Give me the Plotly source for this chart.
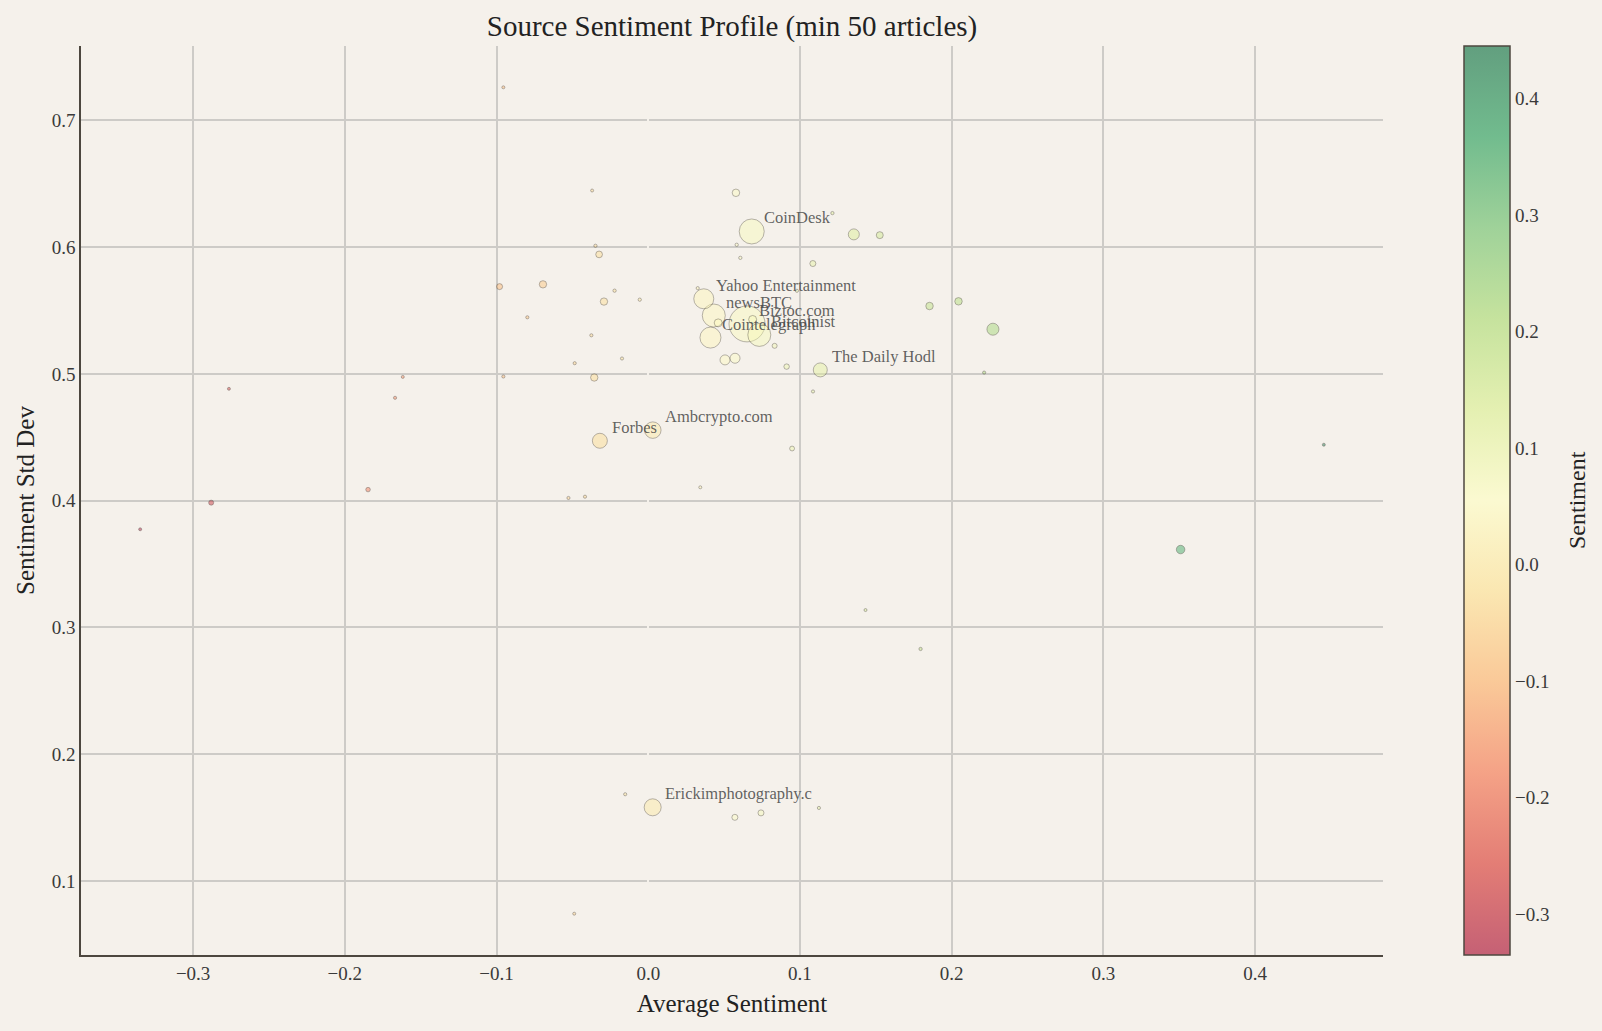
import numpy as np
import plotly.graph_objects as go

# ---------------- data ----------------
source_names = [
    "CoinDesk", "Yahoo Entertainment", "newsBTC", "Biztoc.com", "Cointelegraph",
    "Bitcoinist", "The Daily Hodl", "Forbes", "Ambcrypto.com", "Erickimphotography.c",
] + [""] * 54

avg_sentiment = [
    0.0682, 0.0366, 0.0432, 0.0651, 0.0410,
    0.0732, 0.1134, -0.0319, 0.0030, 0.0029,
    -0.0955, -0.0370, 0.0578, 0.1214, 0.1355, 0.1526, -0.0348, -0.0324, 0.0583, 0.0607,
    0.1085, -0.0980, -0.0694, 0.0326, -0.0222, -0.0292, -0.0056, 0.0980, -0.0797, 0.0461,
    0.0688, -0.0375, 0.0833, 0.0506, 0.0572, 0.0912, -0.0173, -0.0485, -0.0356, -0.0955,
    -0.1618, -0.2764, -0.1669, 0.1854, 0.2045, 0.2272, 0.2214, 0.1086, 0.0948, 0.0343,
    -0.1847, -0.0526, -0.0417, -0.2881, -0.3349, 0.4453, 0.3509, 0.1432, 0.1795, -0.0152,
    0.0571, 0.0743, 0.1125, -0.0488,
]

std_sentiment = [
    0.6123, 0.5592, 0.5460, 0.5394, 0.5286,
    0.5307, 0.5031, 0.4472, 0.4556, 0.1581,
    0.7260, 0.6446, 0.6428, 0.6268, 0.6100, 0.6094, 0.6010, 0.5942, 0.6018, 0.5915,
    0.5870, 0.5688, 0.5706, 0.5676, 0.5656, 0.5570, 0.5585, 0.5655, 0.5446, 0.5402,
    0.5429, 0.5304, 0.5221, 0.5110, 0.5123, 0.5057, 0.5121, 0.5084, 0.4971, 0.4979,
    0.4976, 0.4882, 0.4811, 0.5535, 0.5572, 0.5352, 0.5010, 0.4861, 0.4411, 0.4105,
    0.4087, 0.4021, 0.4031, 0.3984, 0.3774, 0.4441, 0.3614, 0.3137, 0.2830, 0.1684,
    0.1502, 0.1537, 0.1576, 0.0742,
]

article_count = [
    3460, 2215, 2930, 7175, 2440,
    2930, 1085, 1246, 1507, 1600,
    50, 50, 311, 60, 670, 270, 60, 250, 60, 60,
    200, 200, 300, 55, 60, 300, 60, 55, 55, 350,
    350, 55, 140, 554, 554, 165, 55, 55, 300, 55,
    50, 50, 55, 310, 310, 800, 55, 55, 130, 50,
    112, 55, 55, 140, 50, 50, 400, 50, 60, 55,
    200, 200, 55, 50,
]

x_ticks = [-0.3, -0.2, -0.1, 0.0, 0.1, 0.2, 0.3, 0.4]
y_ticks = [0.1, 0.2, 0.3, 0.4, 0.5, 0.6, 0.7]
cbar_ticks = [-0.3, -0.2, -0.1, 0.0, 0.1, 0.2, 0.3, 0.4]

# ---------------- style ----------------
BG = "#f5f1eb"
SPINE = "#4d473f"
GRID = "#cdcbc7"
FONT = "Liberation Serif, Times New Roman, serif"
ALPHA = 0.6
TICK_FONT = dict(family=FONT, size=19, color="#3a3a3a")

rdylgn = ["#a50026", "#d73027", "#f46d43", "#fdae61", "#fee08b", "#ffffbf",
          "#d9ef8b", "#a6d96a", "#66bd63", "#1a9850", "#006837"]


def rgba(h, a):
    h = h.lstrip("#")
    return f"rgba({int(h[0:2],16)},{int(h[2:4],16)},{int(h[4:6],16)},{a})"


def fmt(v):
    return f"{v:.1f}".replace("-", "\u2212")


colorscale = [[k / (len(rdylgn) - 1), rgba(c, ALPHA)] for k, c in enumerate(rdylgn)]

x = np.array(avg_sentiment)
y = np.array(std_sentiment)
n = np.array(article_count)
diam = 0.425 * np.sqrt(n)

order = np.argsort(-n)

xpad = (x.max() - x.min()) * 0.05
ypad = (y.max() - y.min()) * 0.05

fig = go.Figure()

fig.add_trace(go.Scatter(
    x=x[order], y=y[order], mode="markers",
    marker=dict(
        size=diam[order], sizemode="diameter",
        color=x[order], colorscale=colorscale,
        cmin=x.min(), cmax=x.max(),
        line=dict(color="rgba(50,45,40,0.6)", width=0.8),
        colorbar=dict(
            thickness=46, len=1.0, lenmode="fraction", y=0.5, yanchor="middle",
            x=1.0622, xanchor="left", xpad=0, ypad=0,
            outlinewidth=1.5, outlinecolor=SPINE,
            tickvals=cbar_ticks, ticktext=[fmt(v) for v in cbar_ticks], ticks="",
            tickfont=TICK_FONT,
        ),
    ),
    hoverinfo="skip", showlegend=False,
))

for name, xi, yi in zip(source_names, avg_sentiment, std_sentiment):
    if name:
        fig.add_annotation(
            x=xi, y=yi, text=name, showarrow=False,
            xanchor="left", yanchor="bottom", xshift=10, yshift=2,
            font=dict(family=FONT, size=16.5, color="rgba(70,70,70,0.85)"),
        )

# colorbar label
fig.add_annotation(
    text="Sentiment", xref="paper", yref="paper",
    x=(1576.5 - 81) / 1302, y=0.5, xanchor="center", yanchor="middle",
    textangle=-90, showarrow=False,
    font=dict(family=FONT, size=24, color="#222"),
)

fig.add_shape(type="line", xref="x", yref="paper", x0=0, x1=0, y0=0, y1=1,
              line=dict(color="rgba(150,120,100,0.7)", width=1, dash="dash"),
              layer="below")

fig.update_layout(
    width=1602, height=1031,
    paper_bgcolor=BG, plot_bgcolor=BG,
    margin=dict(l=81, r=219, t=46, b=76),
    font=dict(family=FONT, color="#333"),
    title=dict(text="Source Sentiment Profile (min 50 articles)",
               x=(81 + 1383) / 2 / 1602, xanchor="center", y=1 - 25.5 / 1031, yanchor="middle",
               font=dict(family=FONT, size=29, color="#222")),
    xaxis=dict(
        range=[x.min() - xpad, x.max() + xpad],
        tickvals=x_ticks, ticktext=[fmt(v) for v in x_ticks],
        showgrid=True, gridcolor=GRID, gridwidth=1.5,
        zeroline=True, zerolinecolor=BG, zerolinewidth=2,
        showline=True, linecolor=SPINE, linewidth=1.5, mirror=False,
        ticks="", tickfont=TICK_FONT,
        title=dict(text="Average Sentiment", font=dict(family=FONT, size=25, color="#222"),
                   standoff=12),
    ),
    yaxis=dict(
        range=[y.min() - ypad, y.max() + ypad],
        tickvals=y_ticks, ticktext=[fmt(v) for v in y_ticks],
        showgrid=True, gridcolor=GRID, gridwidth=1.5, zeroline=False,
        showline=True, linecolor=SPINE, linewidth=1.5, mirror=False,
        ticks="", tickfont=TICK_FONT,
        title=dict(text="Sentiment Std Dev", font=dict(family=FONT, size=25, color="#222"),
                   standoff=10),
    ),
)

fig.write_html(
    "out.html",
    config={"displayModeBar": False},
    post_script="document.body.style.margin='0px';"
                "document.body.style.background='%s';"
                "document.documentElement.style.overflow='hidden';" % BG,
)
